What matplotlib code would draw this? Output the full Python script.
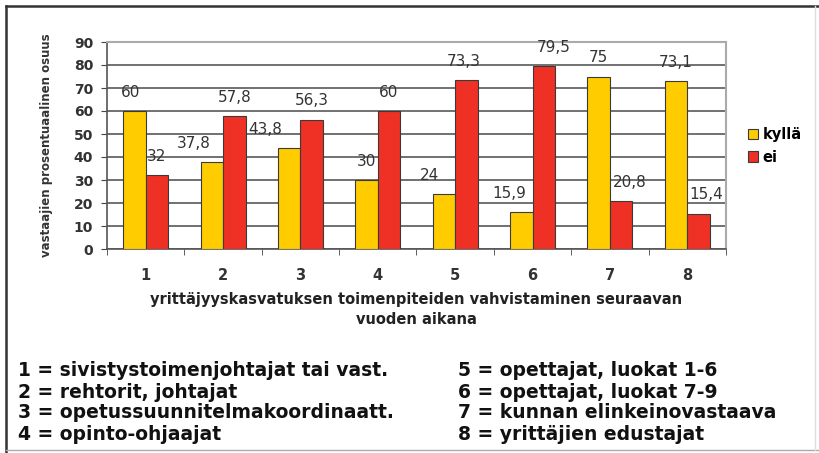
import matplotlib
matplotlib.use("Agg")
import matplotlib.pyplot as plt
from matplotlib.lines import Line2D
import numpy as np

plt.rcParams['font.family'] = 'DejaVu Sans'

categories = ["1", "2", "3", "4", "5", "6", "7", "8"]
kylla = [60, 37.8, 43.8, 30, 24, 15.9, 75, 73.1]
ei = [32, 57.8, 56.3, 60, 73.3, 79.5, 20.8, 15.4]
series_names = ["kyllä", "ei"]
y_ticks = [0, 10, 20, 30, 40, 50, 60, 70, 80, 90]

x_title = "yrittäjyyskasvatuksen toimenpiteiden vahvistaminen seuraavan\nvuoden aikana"
y_title = "vastaajien prosentuaalinen osuus"

key_left = ["1 = sivistystoimenjohtajat tai vast.", "2 = rehtorit, johtajat",
            "3 = opetussuunnitelmakoordinaatt.", "4 = opinto-ohjaajat"]
key_right = ["5 = opettajat, luokat 1-6", "6 = opettajat, luokat 7-9",
             "7 = kunnan elinkeinovastaava", "8 = yrittäjien edustajat"]

YELLOW = "#FFCC00"
RED = "#EE3124"

W, H = 820, 453
fig = plt.figure(figsize=(W / 100, H / 100), dpi=100)

# outer frame
fig.add_artist(Line2D([6 / W, 6 / W], [0, 1 - 6 / H], color="#333333", lw=1.8))
fig.add_artist(Line2D([6 / W, 1], [1 - 6 / H, 1 - 6 / H], color="#333333", lw=1.8))
fig.add_artist(Line2D([6 / W, 1], [3 / H, 3 / H], color="#aaaaaa", lw=1.0))
fig.add_artist(Line2D([815 / W, 815 / W], [3 / H, 1 - 6 / H], color="#dddddd", lw=1.0))

ax = fig.add_axes([107 / W, 1 - 249 / H, (726 - 107) / W, (249 - 42) / H])

x = np.arange(1, len(categories) + 1)
bw = 0.29
b1 = ax.bar(x - bw / 2, kylla, bw, color=YELLOW, edgecolor="#3a3a3a", linewidth=0.8,
            label=series_names[0], zorder=3)
b2 = ax.bar(x + bw / 2, ei, bw, color=RED, edgecolor="#3a3a3a", linewidth=0.8,
            label=series_names[1], zorder=3)

# small nudges (pixels) Excel applied to avoid overlapping labels
nudge_k = [-4, -18, -24, 0, -14, -12, 0, 0]
nudge_e = [0, 0, 0, 0, -3, 10, 9, 8]
for bars, vals, nud in ((b1, kylla, nudge_k), (b2, ei, nudge_e)):
    for bar, v, n in zip(bars, vals, nud):
        txt = f"{v:g}".replace(".", ",")
        ax.annotate(txt, (bar.get_x() + bar.get_width() / 2, v),
                    xytext=(n * 0.72, 8), textcoords="offset points",
                    ha="center", va="bottom", fontsize=11, color="#333333", zorder=4)

ax.set_ylim(0, 90)
ax.set_xlim(0.5, len(categories) + 0.5)
ax.set_yticks(y_ticks)
ax.set_yticklabels([str(t) for t in y_ticks], fontsize=10, fontweight="bold", color="#333333")
ax.set_xticks(x)
ax.set_xticklabels(categories, fontsize=10.5, fontweight="bold", color="#333333")
ax.set_xticks(np.arange(0.5, len(categories) + 1, 1), minor=True)
ax.tick_params(axis="x", which="major", length=0, pad=14)
ax.tick_params(axis="x", which="minor", length=4, color="#444444", direction="out")
ax.tick_params(axis="y", length=4, color="#444444", pad=6)

ax.grid(axis="y", color="#666666", linewidth=1.3, zorder=0)
ax.set_axisbelow(True)
for side in ("left", "bottom"):
    ax.spines[side].set_color("#555555")
    ax.spines[side].set_linewidth(1.2)
for side in ("top", "right"):
    ax.spines[side].set_color("#aaaaaa")
    ax.spines[side].set_linewidth(1.5)

ax.set_xlabel(x_title, fontsize=10.5, fontweight="bold", color="#222222",
              labelpad=6, linespacing=1.45)
fig.text(47 / W, 1 - 145 / H, y_title, rotation=90, ha="center", va="center",
         fontsize=8.5, fontweight="bold", color="#333333")

leg = fig.legend(handles=[b1, b2], labels=series_names, loc="center left",
                 bbox_to_anchor=(748 / W, 1 - 146 / H), frameon=False,
                 prop={"weight": "bold", "size": 10.5}, handlelength=0.7,
                 handleheight=0.7, handletextpad=0.3, labelspacing=0.5,
                 borderaxespad=0, borderpad=0)

for i, (l, r) in enumerate(zip(key_left, key_right)):
    yy = 1 - (371 + 21 * i) / H
    fig.text(18 / W, yy, l, ha="left", va="center", fontsize=13.5,
             fontweight="bold", color="#111111")
    fig.text(458 / W, yy, r, ha="left", va="center", fontsize=13.5,
             fontweight="bold", color="#111111")

fig.savefig("out.png", dpi=100)
